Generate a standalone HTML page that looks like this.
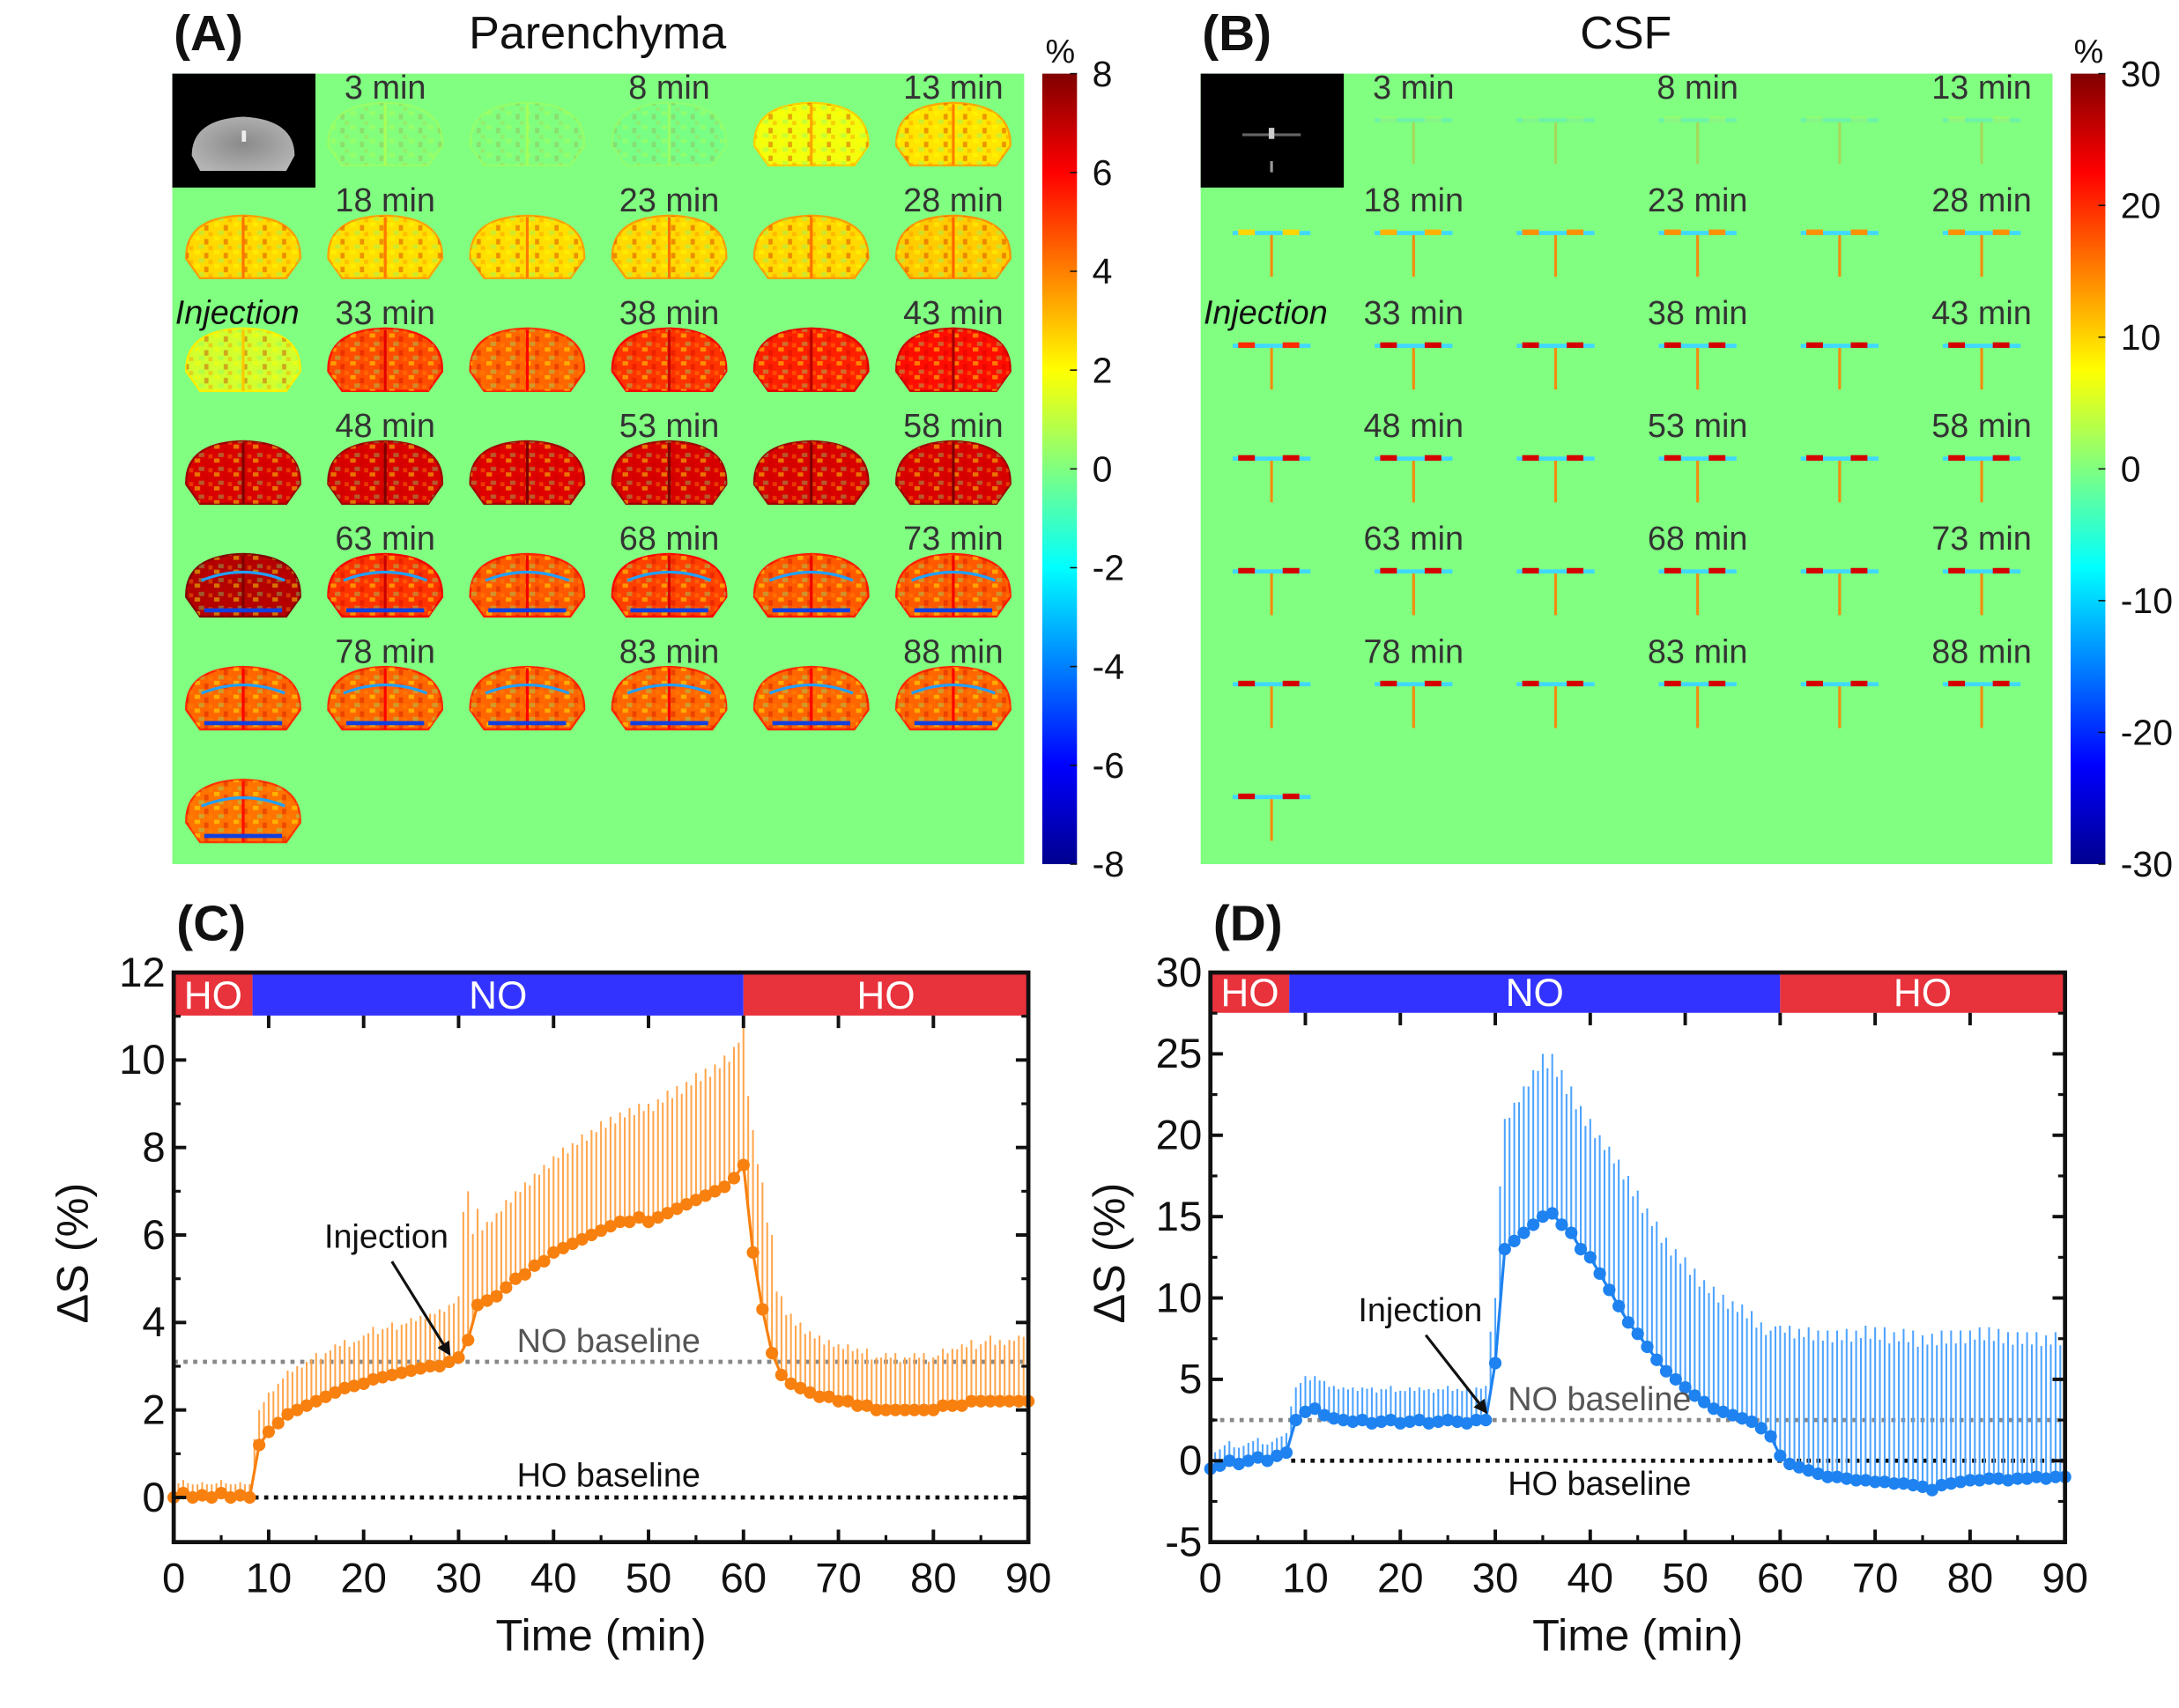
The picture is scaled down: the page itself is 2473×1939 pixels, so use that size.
<!DOCTYPE html>
<html><head><meta charset="utf-8"><style>
html,body{margin:0;padding:0;background:#fff}
svg{display:block}
text{font-family:"Liberation Sans",sans-serif}
</style></head><body>
<svg id="fig" xmlns="http://www.w3.org/2000/svg" width="2473" height="1939" viewBox="0 0 1568 1229.4">
<defs>
<linearGradient id="jet" x1="0" y1="1" x2="0" y2="0">
<stop offset="0" stop-color="#00008F"/><stop offset="0.125" stop-color="#0000FF"/><stop offset="0.375" stop-color="#00FFFF"/><stop offset="0.5" stop-color="#80FF80"/><stop offset="0.625" stop-color="#FFFF00"/><stop offset="0.875" stop-color="#FF0000"/><stop offset="1" stop-color="#800000"/>
</linearGradient>
<radialGradient id="gray" cx="0.5" cy="0.5" r="0.6"><stop offset="0" stop-color="#8a8a8a"/><stop offset="1" stop-color="#b5b5b5"/></radialGradient>
<pattern id="tex" width="14" height="10" patternUnits="userSpaceOnUse">
<rect x="0" y="0" width="4" height="3" fill="rgba(255,255,0,0.45)"/>
<rect x="7" y="2" width="3" height="4" fill="rgba(200,0,0,0.35)"/>
<rect x="3" y="6" width="4" height="3" fill="rgba(120,255,120,0.35)"/>
<rect x="10" y="7" width="3" height="3" fill="rgba(255,140,0,0.4)"/>
</pattern>
<marker id="arr" markerWidth="10" markerHeight="10" refX="8" refY="5" orient="auto" markerUnits="userSpaceOnUse"><path d="M0,0 L10,5 L0,10 z" fill="#111"/></marker>
</defs>
<g id="root"></g>
</svg>
<script>
// ---------- data ----------
const timeMin = [];
for (let i = 0; i <= 90; i++) timeMin.push(i);
const parMean = [0,0.1,0,0.05,0,0.1,0,0.05,0,1.2,1.5,1.7,1.9,2.0,2.1,2.2,2.3,2.4,2.5,2.55,2.6,2.7,2.75,2.8,2.85,2.9,2.95,3.0,3.0,3.1,3.2,3.6,4.4,4.5,4.6,4.8,5.0,5.1,5.3,5.4,5.6,5.7,5.8,5.9,6.0,6.1,6.2,6.3,6.3,6.4,6.3,6.4,6.5,6.6,6.7,6.8,6.9,7.0,7.1,7.3,7.6,5.6,4.3,3.3,2.8,2.6,2.5,2.4,2.3,2.3,2.2,2.2,2.1,2.1,2.0,2.0,2.0,2.0,2.0,2.0,2.0,2.1,2.1,2.1,2.2,2.2,2.2,2.2,2.2,2.2,2.2];
const parErr = [0.3,0.3,0.3,0.3,0.3,0.3,0.3,0.3,0.3,0.8,0.9,0.9,1.0,1.0,1.0,1.1,1.0,1.1,1.1,1.0,1.1,1.2,1.1,1.2,1.1,1.2,1.2,1.2,1.3,1.3,1.4,3.4,2.2,1.8,1.9,2.0,2.0,2.1,2.1,2.2,2.2,2.3,2.3,2.4,2.4,2.5,2.5,2.5,2.6,2.6,2.7,2.7,2.8,2.8,2.8,2.9,2.9,2.9,3.0,3.0,3.2,2.8,2.9,2.7,1.8,1.6,1.5,1.4,1.4,1.3,1.3,1.3,1.3,1.3,1.2,1.3,1.3,1.2,1.3,1.3,1.2,1.3,1.3,1.4,1.4,1.3,1.5,1.4,1.4,1.5,1.6];
const csfMean = [-0.5,-0.3,0,-0.2,0,0.2,0,0.3,0.5,2.5,3.0,3.2,2.8,2.6,2.5,2.4,2.5,2.3,2.4,2.5,2.3,2.4,2.5,2.3,2.4,2.5,2.4,2.3,2.5,2.5,6.0,13.0,13.5,14.0,14.5,15.0,15.2,14.5,14.0,13.0,12.5,11.5,10.5,9.5,8.5,7.8,7.0,6.2,5.5,5.0,4.5,4.0,3.6,3.2,3.0,2.8,2.6,2.4,2.0,1.5,0.3,-0.2,-0.4,-0.6,-0.8,-1.0,-1.0,-1.1,-1.2,-1.2,-1.3,-1.3,-1.4,-1.4,-1.5,-1.6,-1.8,-1.5,-1.4,-1.3,-1.2,-1.2,-1.1,-1.1,-1.2,-1.1,-1.1,-1.0,-1.1,-1.0,-1.0];
const csfErr = [1.0,1.0,1.2,1.0,1.1,1.2,1.0,1.1,1.2,2.0,2.2,2.0,2.1,2.0,2.0,2.1,2.0,2.2,2.0,2.1,2.0,2.1,2.0,2.1,2.0,2.1,2.0,2.1,2.0,2.1,4.0,8.0,8.5,9.0,9.5,10.0,9.8,9.5,9.0,8.8,8.5,8.5,8.8,9.0,9.0,8.8,8.5,8.5,8.2,8.0,8.0,7.8,7.5,7.5,7.2,7.0,7.0,6.8,6.5,6.5,8.0,8.5,8.5,8.8,8.8,9.0,9.0,9.2,9.2,9.5,9.5,9.5,9.3,9.5,9.5,9.3,9.6,9.5,9.4,9.3,9.2,9.4,9.3,9.2,9.1,9.0,9.0,8.9,8.8,8.9,8.8];
const parXTicks = [0,10,20,30,40,50,60,70,80,90];
const parYTicks = [0,2,4,6,8,10,12];
const csfYTicks = [-5,0,5,10,15,20,25,30];
const parCbTicks = [8,6,4,2,0,-2,-4,-6,-8];
const csfCbTicks = [30,20,10,0,-10,-20,-30];
const parCells = [[null,0.2,0.05,-0.3,1.8,2.4],[2.6,2.5,2.5,2.6,2.6,2.8],[1.3,4.8,4.4,5.2,5.5,5.8],[6.6,6.6,6.5,6.6,6.6,6.6],[7.2,5.2,4.6,5.0,4.6,4.6],[4.4,4.4,4.4,4.4,4.4,4.4],[4.2]];
const csfCells = [[null,4,3,5,4,6],[10,12,14,14,14,14],[20,25,25,25,25,25],[25,25,25,25,25,25],[25,25,25,25,25,25],[25,25,25,25,25,25],[25]];
const timeLabels = [["3 min","8 min","13 min"],["18 min","23 min","28 min"],["33 min","38 min","43 min"],["48 min","53 min","58 min"],["63 min","68 min","73 min"],["78 min","83 min","88 min"]];

// ---------- helpers ----------
const NS = "http://www.w3.org/2000/svg";
const root = document.getElementById("root");
function mk(tag, attrs, parent) {
  const e = document.createElementNS(NS, tag);
  for (const k in attrs) e.setAttribute(k, attrs[k]);
  (parent || root).appendChild(e);
  return e;
}
function txt(s, x, y, size, opts, parent) {
  const e = mk("text", Object.assign({x: x, y: y, "font-size": size, fill: "#111"}, opts || {}), parent);
  e.textContent = s;
  return e;
}
function clamp(v){return Math.max(0,Math.min(1,v));}
function jet(t){ t=clamp(t); const r=clamp(1.5-Math.abs(4*t-3)), g=clamp(1.5-Math.abs(4*t-2)), b=clamp(1.5-Math.abs(4*t-1));
  return "rgb("+Math.round(r*255)+","+Math.round(g*255)+","+Math.round(b*255)+")";}

// ---------- map panels ----------
function mapPanel(x0, title, tag, cells, vmax, cbTicks, isCsf) {
  const g = mk("g", {});
  
  
  const pl = txt(tag, x0+1, 36, 36, {"font-weight": "bold"}, g);
  
  
  const tt = txt(title, x0+306, 35, 33, {"text-anchor": "middle"}, g);
  
  
  const bg = mk("rect", {x: x0, y: 53, width: 613, height: 569, fill: "#80FF80"}, g);
  
  
  const im = mk("rect", {x: x0, y: 53, width: 103, height: 82, fill: "#000"}, g);
  
  
  if (!isCsf) {
    mk("path", {d: "M"+(x0+20)+",123 L"+(x0+14)+",112 Q"+(x0+14)+",86 "+(x0+51)+",84 Q"+(x0+88)+",86 "+(x0+88)+",112 L"+(x0+82)+",123 Z", fill: "url(#gray)"}, g);
    mk("rect", {x: x0+50, y: 94, width: 3, height: 8, fill: "#eee"}, g);
  } else {
    mk("rect", {x: x0+30, y: 96, width: 42, height: 2, fill: "#666"}, g);
    mk("rect", {x: x0+49, y: 92, width: 4, height: 8, fill: "#ccc"}, g);
    mk("rect", {x: x0+50, y: 116, width: 2, height: 8, fill: "#999"}, g);
  }
  const colX = [0,1,2,3,4,5].map(c => x0 + 51 + c*102.2);
  for (let r = 0; r < cells.length; r++) {
    for (let c = 0; c < cells[r].length; c++) {
      const v = cells[r][c];
      if (v === null) continue;
      const cx = colX[c], cy = 97 + r*81.2;
      const t = (v + vmax) / (2*vmax);
      const cg = mk("g", {}, g);
      
      
      if (!isCsf) {
        const faint = Math.abs(v) < 1;
        cg.setAttribute("opacity", faint ? 0.35 : 1);
        const d = "M"+(cx-31)+","+(cy+22)+" L"+(cx-41)+","+(cy+8)+" Q"+(cx-42)+","+(cy-22)+" "+cx+","+(cy-23)+" Q"+(cx+42)+","+(cy-22)+" "+(cx+41)+","+(cy+8)+" L"+(cx+31)+","+(cy+22)+" Z";
        mk("path", {d: d, fill: jet(t), stroke: jet(t+0.06), "stroke-width": 1.5}, cg);
        mk("path", {d: d, fill: "url(#tex)"}, cg);
        mk("rect", {x: cx-1, y: cy-22, width: 2, height: 44, fill: jet(t+0.1)}, cg);
        if (r >= 4) {
          mk("path", {d: "M"+(cx-30)+","+(cy-4)+" Q"+cx+","+(cy-16)+" "+(cx+30)+","+(cy-4), fill: "none", stroke: "#20a0ff", "stroke-width": 2}, cg);
          mk("rect", {x: cx-28, y: cy+16, width: 56, height: 3, fill: "#1040e0"}, cg);
        }
      } else {
        const cy2 = cy - 12;
        const op = r===0 ? 0.3 : 1;
        mk("rect", {x: cx-28, y: cy2, width: 56, height: 3, fill: "#40d8ff", opacity: op}, cg);
        mk("rect", {x: cx-24, y: cy2-1, width: 12, height: 4, fill: jet(t), opacity: op}, cg);
        mk("rect", {x: cx+8, y: cy2-1, width: 12, height: 4, fill: jet(t), opacity: op}, cg);
        mk("rect", {x: cx-1, y: cy2+3, width: 2, height: 30, fill: "#ff8000", opacity: r===0?0.3:0.9}, cg);
      }
    }
  }
  for (let r = 0; r < timeLabels.length; r++) {
    for (let k = 0; k < 3; k++) {
      const l = txt(timeLabels[r][k], colX[1+2*k], 71 + r*81.2, 24, {"text-anchor": "middle", fill: "#333"}, g);
      
      
    }
  }
  const inj = txt("Injection", x0+2, 233, 24, {"font-style": "italic", fill: "#111"}, g);
  
  
  // colorbar
  const cbx = x0 + 626;
  const cb = mk("rect", {x: cbx, y: 53, width: 25, height: 569, fill: "url(#jet)"}, g);
  
  
  const pc = txt("%", cbx+13, 45, 24, {"text-anchor": "middle"}, g);
  
  
  cbTicks.forEach(v => {
    const y = 53 + (vmax - v) / (2*vmax) * 569;
    mk("line", {x1: cbx+20, x2: cbx+25, y1: y, y2: y, stroke: "#111", "stroke-width": 1}, g);
    const tl = txt(String(v), cbx+36, y+9, 26, {}, g);
    
    
  });
}
mapPanel(124, "Parenchyma", "(A)", parCells, 8, parCbTicks, false);
mapPanel(864, "CSF", "(B)", csfCells, 30, csfCbTicks, true);

// ---------- line charts ----------
function chart(o) {
  const g = mk("g", {});
  
  
  const X = t => o.x0 + (t/90) * (o.x1 - o.x0);
  const Y = v => o.y1 - (v - o.ymin) / (o.ymax - o.ymin) * (o.y1 - o.y0);
  const pl = txt(o.tag, o.x0+2, 677, 36, {"font-weight": "bold"}, g);
  
  
  const segs = [[0,8.3,"#E8323C","HO"],[8.3,60,"#3333FF","NO"],[60,90,"#E8323C","HO"]];
  segs.forEach(s => {
    const r = mk("rect", {x: X(s[0]), y: o.y0, width: X(s[1])-X(s[0]), height: o.barH, fill: s[2]}, g);
    
    
    const t = txt(s[3], (X(s[0])+X(s[1]))/2, o.y0+o.barH-5, 28, {"text-anchor": "middle", fill: "#fff"}, g);
    
    
  });
  const nb = mk("line", {x1: X(0), x2: X(90), y1: Y(o.noBase), y2: Y(o.noBase), stroke: "#888", "stroke-width": 3, "stroke-dasharray": "3,4"}, g);
  
  
  const hb = mk("line", {x1: X(8.5), x2: X(90), y1: Y(0), y2: Y(0), stroke: "#111", "stroke-width": 3, "stroke-dasharray": "3,4"}, g);
  
  
  const eg = mk("g", {}, g);
  
  
  for (let i = 0; i < timeMin.length; i++) {
    for (let h = 0; h < 2; h++) {
      const t = timeMin[i] + h*0.5;
      if (t > 90) continue;
      const m = h ? (o.mean[i] + o.mean[Math.min(i+1, o.mean.length-1)]) / 2 : o.mean[i];
      const e = h ? o.err[Math.min(i+1, o.err.length-1)] * 0.92 : o.err[i];
      const ln = mk("line", {x1: X(t), x2: X(t), y1: Y(m), y2: Y(m + e), stroke: o.barColor, "stroke-width": 1.3}, eg);
      
      
    }
  }
  const pts = timeMin.map((t, i) => X(t) + "," + Y(o.mean[i])).join(" ");
  const pln = mk("polyline", {points: pts, fill: "none", stroke: o.color, "stroke-width": 2}, g);
  
  
  timeMin.forEach((t, i) => {
    const c = mk("circle", {cx: X(t), cy: Y(o.mean[i]), r: 4.5, fill: o.color}, g);
    
    
  });
  const fr = mk("rect", {x: o.x0, y: o.y0, width: o.x1-o.x0, height: o.y1-o.y0, fill: "none", stroke: "#111", "stroke-width": 3}, g);
  
  
  parXTicks.forEach(t => {
    const x = X(t);
    mk("line", {x1: x, x2: x, y1: o.y1, y2: o.y1-9, stroke: "#111", "stroke-width": 2.5}, g);
    mk("line", {x1: x, x2: x, y1: o.y0+o.barH, y2: o.y0+o.barH+9, stroke: "#111", "stroke-width": 2.5}, g);
    if (t < 90) {
      mk("line", {x1: X(t+5), x2: X(t+5), y1: o.y1, y2: o.y1-5, stroke: "#111", "stroke-width": 2}, g);
    }
    const l = txt(String(t), x, o.y1+36, 30, {"text-anchor": "middle"}, g);
    
    
  });
  o.yTicks.forEach((v, k) => {
    const y = Y(v);
    mk("line", {x1: o.x0, x2: o.x0+9, y1: y, y2: y, stroke: "#111", "stroke-width": 2.5}, g);
    mk("line", {x1: o.x1, x2: o.x1-9, y1: y, y2: y, stroke: "#111", "stroke-width": 2.5}, g);
    if (k < o.yTicks.length-1) {
      const ym = Y((v + o.yTicks[k+1]) / 2);
      mk("line", {x1: o.x0, x2: o.x0+5, y1: ym, y2: ym, stroke: "#111", "stroke-width": 2}, g);
      mk("line", {x1: o.x1, x2: o.x1-5, y1: ym, y2: ym, stroke: "#111", "stroke-width": 2}, g);
    }
    const l = txt(String(v), o.x0-6, y+10, 30, {"text-anchor": "end"}, g);
    
    
  });
  const xt = txt("Time (min)", (o.x0+o.x1)/2, 1188, 32, {"text-anchor": "middle"}, g);
  
  
  const yt = txt("ΔS (%)", 0, 0, 32, {"text-anchor": "middle", transform: "translate(" + (o.x0-62) + ",902) rotate(-90)"}, g);
  
  
  const nl = txt("NO baseline", o.labX, Y(o.noBase)-7, 24, {"text-anchor": "middle", fill: "#555"}, g);
  
  
  const hl = txt("HO baseline", o.labX, o.hoLabY, 24, {"text-anchor": "middle", fill: "#111"}, g);
  
  
  const il = txt("Injection", o.injX, o.injY, 24, {"text-anchor": "middle"}, g);
  
  
  const ar = mk("line", {x1: o.injX+4, y1: o.injY+10, x2: X(29), y2: Y(o.mean[29])-6, stroke: "#111", "stroke-width": 2, "marker-end": "url(#arr)"}, g);
  
  
}
chart({name: "parenchyma-timecourse-chart", tag: "(C)", x0: 125, x1: 740, y0: 700, y1: 1110, ymin: -1.02, ymax: 12, barH: 31,
  mean: parMean, err: parErr, yTicks: parYTicks, noBase: 3.1, color: "#F8800F", barColor: "#FFA64D",
  labX: 438, hoLabY: 1070, injX: 278, injY: 898});
chart({name: "csf-timecourse-chart", tag: "(D)", x0: 871, x1: 1486, y0: 700, y1: 1110, ymin: -5, ymax: 30, barH: 29,
  mean: csfMean, err: csfErr, yTicks: csfYTicks, noBase: 2.5, color: "#1E82F0", barColor: "#4DA3FF",
  labX: 1151, hoLabY: 1076, injX: 1022, injY: 951});
</script>
</body></html>
